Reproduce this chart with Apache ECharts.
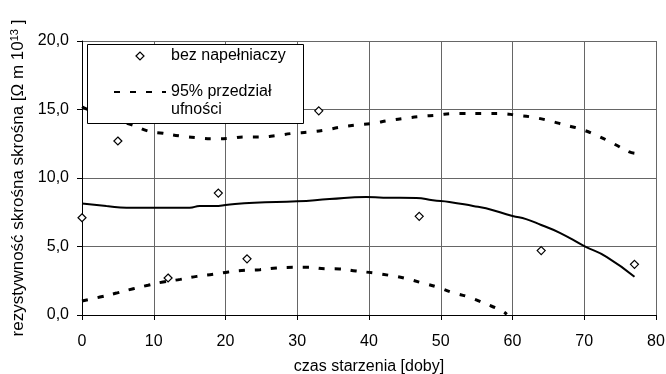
<!DOCTYPE html>
<html>
<head>
<meta charset="utf-8">
<script src="https://cdn.jsdelivr.net/npm/echarts@6/dist/echarts.min.js"></script>
<style>
html,body{margin:0;padding:0;background:#fff;}
#c{width:666px;height:374px;}
</style>
</head>
<body>
<div id="c"></div>
<script>
// measured points (bez napełniaczy)
const scatterX = [0, 5, 12, 19, 23, 33, 47, 64, 77];
const scatterY = [7.1, 12.7, 2.7, 8.9, 4.1, 14.9, 7.2, 4.7, 3.7];

// fitted curve
const fitX = [0, 3.4, 6.2, 10, 15, 16.4, 19, 20, 24, 30, 34.5, 39.6, 42, 46.6, 48.9, 51.2, 54.5, 56.3, 60, 61.9, 64, 66.6, 70, 73.1, 77];
const fitY = [8.13, 7.96, 7.83, 7.83, 7.83, 7.96, 7.96, 8.03, 8.2, 8.3, 8.46, 8.61, 8.56, 8.54, 8.37, 8.25, 7.96, 7.79, 7.23, 7.0, 6.57, 6.0, 5.03, 4.25, 2.79];

// upper 95% confidence bound
const upX = [0, 2.5, 4.8, 7.15, 9.2, 11.3, 13.7, 16, 18.3, 20.6, 22.7, 24.8, 27.1, 29.4, 31.8, 33.9, 35.9, 38.2, 40.6, 42.8, 45, 47.3, 49.5, 51.7, 56.1, 58.4, 60.6, 62.9, 65.1, 67.3, 69.6, 71.8, 74, 76.2, 77];
const upY = [15.2, 14.6, 14.2, 13.85, 13.43, 13.26, 13.07, 12.94, 12.87, 12.9, 13.0, 13.0, 13.1, 13.26, 13.36, 13.5, 13.7, 13.87, 14.0, 14.2, 14.36, 14.5, 14.58, 14.7, 14.7, 14.7, 14.58, 14.43, 14.18, 13.87, 13.55, 13.09, 12.53, 11.92, 11.8];

// lower 95% confidence bound
const loX = [0, 2.5, 4.8, 7.15, 9.2, 11.3, 13.7, 16, 18.3, 20.4, 22.7, 24.8, 27.1, 29.4, 31.5, 33.9, 35.9, 38.2, 40.6, 42.8, 45, 47.3, 49.5, 51.7, 53.9, 56.2, 58.4, 59.2];
const loY = [1.02, 1.31, 1.6, 1.92, 2.17, 2.41, 2.6, 2.82, 2.97, 3.14, 3.26, 3.31, 3.43, 3.48, 3.48, 3.38, 3.36, 3.21, 3.07, 2.9, 2.68, 2.36, 2.04, 1.63, 1.31, 0.83, 0.34, 0.05];

const xTicks = {min: 0, max: 80, interval: 10};
const yTicks = {min: 0, max: 20, interval: 5};

const pair = (xs, ys) => xs.map((x, i) => [x, ys[i]]);
const FONT = 'Liberation Sans, Arial, sans-serif';
const ciName = '95% przedział ufności';
const ptName = 'bez napełniaczy';

const chart = echarts.init(document.getElementById('c'), null, {renderer: 'canvas'});
chart.setOption({
  animation: false,
  backgroundColor: '#fff',
  grid: {left: 82, right: 10, top: 41, bottom: 59, containLabel: false, outerBoundsMode: 'none'},
  xAxis: {
    type: 'value', min: xTicks.min, max: xTicks.max, interval: xTicks.interval,
    name: 'czas starzenia [doby]', nameLocation: 'middle', nameGap: 44,
    nameTextStyle: {fontFamily: FONT, fontSize: 16, color: '#000'},
    axisLine: {show: true, lineStyle: {color: '#000', width: 1}},
    axisTick: {show: true, inside: false, length: 5, lineStyle: {color: '#000'}},
    axisLabel: {fontFamily: FONT, fontSize: 16, color: '#000', margin: 19},
    splitLine: {show: true, lineStyle: {color: '#666', width: 1}}
  },
  yAxis: {
    type: 'value', min: yTicks.min, max: yTicks.max, interval: yTicks.interval,
    name: 'rezystywność skrośna skrośna [Ω m 10{sup|13} ]',
    nameLocation: 'middle', nameGap: 53, nameRotate: 90,
    nameTextStyle: {fontFamily: FONT, fontSize: 17, color: '#000',
      rich: {sup: {fontFamily: FONT, fontSize: 11, color: '#000', verticalAlign: 'top', lineHeight: 11, padding: [0, 0, 6, 0]}}},
    axisLine: {show: true, lineStyle: {color: '#000', width: 1}},
    axisTick: {show: true, inside: false, length: 5, lineStyle: {color: '#000'}},
    axisLabel: {fontFamily: FONT, fontSize: 16, color: '#000', margin: 13,
      formatter: v => v.toFixed(1).replace('.', ',')},
    splitLine: {show: true, lineStyle: {color: '#666', width: 1}}
  },
  legend: {
    z: 10,
    orient: 'vertical', left: 87, top: 44,
    padding: [3, 0, 0, 26],
    itemWidth: 52, itemHeight: 8, itemGap: 0,
    symbolKeepAspect: true,
    textStyle: {fontFamily: FONT, fontSize: 16, color: '#000', lineHeight: 18},
    data: [
      {name: ptName, icon: 'path://M0,5L5,0L10,5L5,10Z',
        itemStyle: {color: '#fff', borderColor: '#000', borderWidth: 1.2}},
      {name: ciName, itemStyle: {color: 'rgba(0,0,0,0)', borderColor: 'rgba(0,0,0,0)', borderWidth: 0}}
    ],
    formatter: n => n === ciName ? '\n95% przedział\nufności' : n
  },
  graphic: [{
    type: 'rect', z: 5, silent: true,
    shape: {x: 87.5, y: 44.5, width: 216, height: 79},
    style: {fill: '#fff', stroke: '#000', lineWidth: 1}
  }],
  series: [
    {
      name: 'fit', type: 'line', data: pair(fitX, fitY), showSymbol: false, symbol: 'none',
      smooth: true, lineStyle: {color: '#000', width: 2}, z: 2
    },
    {
      name: ciName, type: 'line', data: pair(upX, upY), showSymbol: false, symbol: 'none',
      smooth: true, lineStyle: {color: '#000', width: 3, type: [6, 10]}, itemStyle: {color: '#000'}, z: 2
    },
    {
      name: ciName, type: 'line', data: pair(loX, loY), showSymbol: false, symbol: 'none',
      smooth: true, lineStyle: {color: '#000', width: 3, type: [6, 10]}, itemStyle: {color: '#000'}, z: 2
    },
    {
      name: ptName, type: 'scatter', data: pair(scatterX, scatterY),
      symbol: 'diamond', symbolSize: 8,
      itemStyle: {color: '#fff', borderColor: '#000', borderWidth: 1.2, opacity: 1}, z: 3
    }
  ]
});
</script>
</body>
</html>
